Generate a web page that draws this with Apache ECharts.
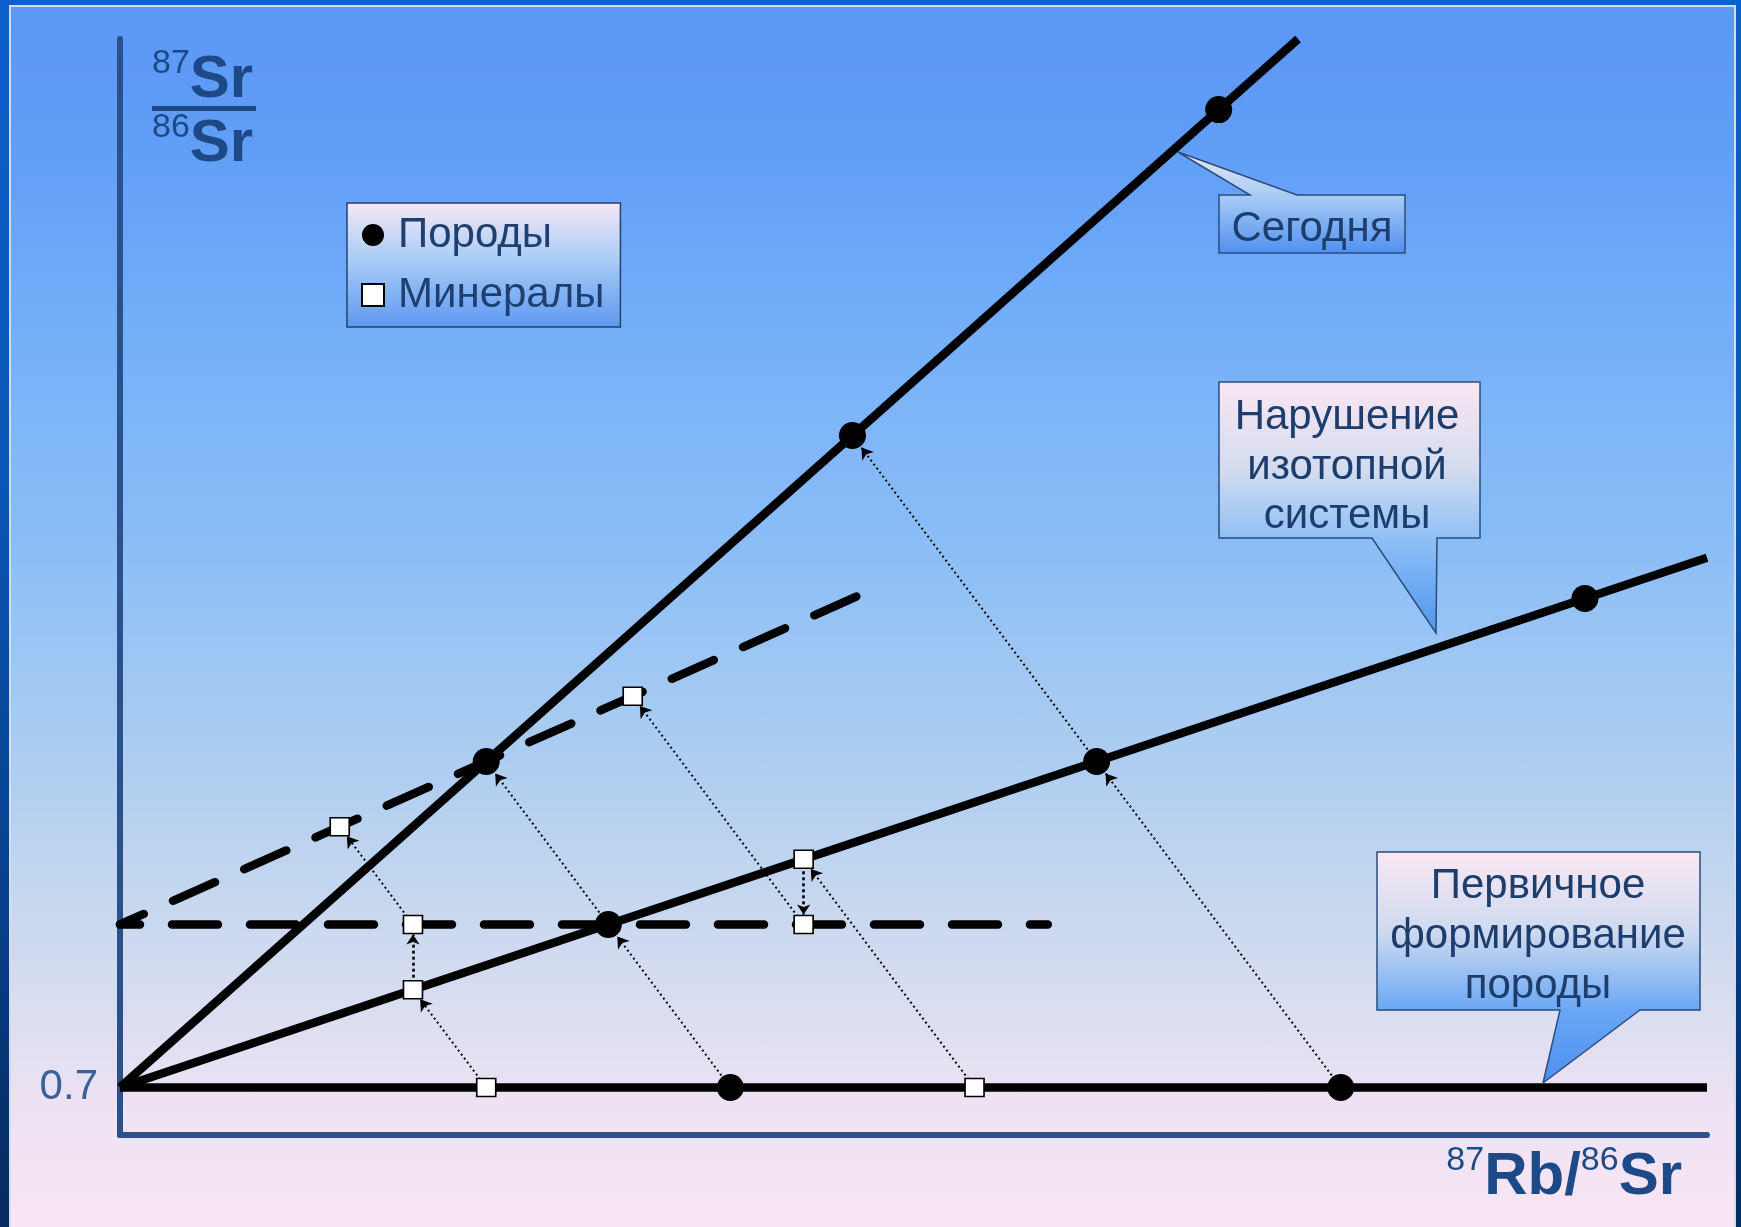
<!DOCTYPE html>
<html><head><meta charset="utf-8">
<script src="https://cdn.jsdelivr.net/npm/echarts@6/dist/echarts.min.js"></script>
<style>
html,body{margin:0;padding:0;width:1741px;height:1227px;overflow:hidden;}
#frame{position:absolute;left:0;top:0;width:1741px;height:1227px;background:linear-gradient(to bottom,#0c60cc 0%,#0a55b4 40%,#083f86 75%,#062b5c 100%);}
#panel{position:absolute;left:9px;top:5px;width:1727px;height:1222px;box-sizing:border-box;border:2px solid #d2dcec;border-bottom:none;
background:linear-gradient(to bottom,#5b97f5 0%,#619ef7 12%,#6eaaf8 22%,#7db5f8 33%,#8cbef6 45%,#a0c8f3 55%,#b2cff0 64%,#c8d8ef 74%,#dcdef1 83%,#ede2f3 90%,#f9e5f5 100%);}
#chart{position:absolute;left:0;top:0;width:1741px;height:1227px;}
</style>
</head>
<body>
<div id="frame"></div>
<div id="panel"></div>
<div id="chart"></div>
<script>
// ---- data (x = 87Rb/86Sr, arbitrary units; y = 87Sr/86Sr) ----
const xMin = 0, xMax = 13;
const yMin = 0.6965, yMax = 0.7772;
const yTickValues = [0.7];

const initialIsochron = [[0, 0.7], [13, 0.7]];          // Первичное формирование
const disturbanceIsochron = [[0, 0.7], [13, 0.739]];   // Нарушение изотопной системы
const todayIsochron = [[0, 0.7], [9.65, 0.7772]];      // Сегодня
const resetLevel = [[0, 0.712], [7.6, 0.712]];         // dashed horizontal
const mineralIsochron = [[0, 0.712], [6.07, 0.7363]];  // dashed slanted

const rockPoints = [[5, 0.7], [10, 0.7], [4, 0.712], [8, 0.724], [12, 0.736], [3, 0.724], [6, 0.748], [9, 0.772]];
const mineralPoints = [[3, 0.7], [7, 0.7], [2.4, 0.7072], [5.6, 0.7168], [2.4, 0.712], [5.6, 0.712], [1.8, 0.7192], [4.2, 0.7288]];

const rockPaths = [
  [[5, 0.7], [4, 0.712]], [[4, 0.712], [3, 0.724]],
  [[10, 0.7], [8, 0.724]], [[8, 0.724], [6, 0.748]]
];
const mineralPaths = [
  [[3, 0.7], [2.4, 0.7072]], [[7, 0.7], [5.6, 0.7168]],
  [[2.4, 0.712], [1.8, 0.7192]], [[5.6, 0.712], [4.2, 0.7288]]
];
const resetPaths = [
  [[2.4, 0.7072], [2.4, 0.712]], [[5.6, 0.7168], [5.6, 0.712]]
];

// ---- chart ----
const FONT = '"Liberation Sans", Arial, sans-serif';
const chart = echarts.init(document.getElementById('chart'), null, {renderer: 'canvas'});

function grad(stops) {
  return new echarts.graphic.LinearGradient(0, 0, 0, 1, stops.map(s => ({offset: s[0], color: s[1]})));
}
const titleColor = '#1d4a86';
const calloutText = '#1d3d6d';
const richTitle = {
  b: {fontSize: 60, fontWeight: 'bold', fontFamily: FONT, fill: titleColor, lineHeight: 66},
  s: {fontSize: 34, fontFamily: FONT, fill: titleColor, verticalAlign: 'top', lineHeight: 34}
};

const solid = {color: '#000', width: 8.5, opacity: 1};
const dashed = {color: '#000', width: 8.5, type: [46, 32], cap: 'round', opacity: 1};
const arrowLine = {color: '#000', width: 2, type: [2, 3], opacity: 1};

const option = {
  animation: false,
  grid: {left: 120, right: 34, top: 39, bottom: 92, containLabel: false},
  xAxis: {
    type: 'value', min: xMin, max: xMax,
    axisLine: {show: true, onZero: false, lineStyle: {color: '#2a5189', width: 6}},
    axisTick: {show: false}, axisLabel: {show: false}, splitLine: {show: false}
  },
  yAxis: {
    type: 'value', min: yMin, max: yMax,
    axisLine: {show: true, onZero: false, lineStyle: {color: '#2a5189', width: 6}},
    axisTick: {show: false}, splitLine: {show: false},
    axisLabel: {customValues: yTickValues, formatter: v => v.toFixed(1), fontSize: 42, fontFamily: FONT, color: '#3a6299', margin: 22}
  },
  legend: {
    data: ['Породы', 'Минералы'], orient: 'vertical', left: 347, top: 203,
    padding: [7, 16, 7, 14], itemGap: 10, itemWidth: 22, itemHeight: 22,
    selectedMode: false,
    backgroundColor: grad([[0, '#f6e7f5'], [0.45, '#a9cdf6'], [1, '#5d98f1']]),
    borderColor: '#27416b', borderWidth: 1.5,
    textStyle: {fontSize: 42, fontFamily: FONT, color: '#1e3f70', lineHeight: 50, padding: [0, 0, 0, 9]}
  },
  series: [
    {type: 'line', name: 'initial', data: initialIsochron, symbol: 'none', lineStyle: solid, silent: true, z: 2},
    {type: 'line', name: 'disturbance', data: disturbanceIsochron, symbol: 'none', lineStyle: solid, silent: true, z: 2},
    {type: 'line', name: 'today', data: todayIsochron, symbol: 'none', lineStyle: solid, silent: true, z: 2},
    {type: 'line', name: 'reset', data: resetLevel, symbol: 'none', silent: true, z: 2,
     lineStyle: Object.assign({dashOffset: 26}, dashed)},
    {type: 'line', name: 'mineralIso', data: mineralIsochron, symbol: 'none', silent: true, z: 2,
     lineStyle: Object.assign({dashOffset: 20}, dashed)},
    {id: 'rockArrows', type: 'lines', coordinateSystem: 'cartesian2d', silent: true, z: 3,
     symbol: ['none', 'arrow'], symbolSize: [1, 11], lineStyle: arrowLine,
     data: rockPaths.map(p => ({coords: p}))},
    {id: 'mineralArrows', type: 'lines', coordinateSystem: 'cartesian2d', silent: true, z: 3,
     symbol: ['none', 'arrow'], symbolSize: [1, 11], lineStyle: arrowLine,
     data: mineralPaths.map(p => ({coords: p}))},
    {id: 'resetArrows', type: 'lines', coordinateSystem: 'cartesian2d', silent: true, z: 3,
     symbol: ['none', 'arrow'], symbolSize: [1, 10], lineStyle: {color: '#000', width: 2.6, type: [3, 3], opacity: 1},
     data: resetPaths.map(p => ({coords: p}))},
    {type: 'scatter', name: 'Породы', data: rockPoints, symbol: 'circle', symbolSize: 27,
     itemStyle: {color: '#000', opacity: 1}, silent: true, z: 5},
    {type: 'scatter', name: 'Минералы', data: mineralPoints, symbol: 'rect', symbolSize: [19, 18],
     itemStyle: {color: '#fff', borderColor: '#000', borderWidth: 1.6, opacity: 1}, silent: true, z: 6}
  ],
  graphic: [
    // y-axis title (fraction)
    {type: 'text', x: 152, y: 80, z: 20, style: {text: '{s|87}{b|Sr}', rich: richTitle, fill: titleColor, verticalAlign: 'middle'}},
    {type: 'rect', z: 20, shape: {x: 152, y: 106, width: 104, height: 5}, style: {fill: titleColor}},
    {type: 'text', x: 152, y: 144, z: 20, style: {text: '{s|86}{b|Sr}', rich: richTitle, fill: titleColor, verticalAlign: 'middle'}},
    // x-axis title
    {type: 'text', x: 1682, y: 1177, z: 20, style: {text: '{s|87}{b|Rb/}{s|86}{b|Sr}', rich: richTitle, fill: titleColor, align: 'right', verticalAlign: 'middle'}},
    // callout: Сегодня
    {type: 'polygon', z: 20, shape: {points: [[1219, 195], [1250, 195], [1178, 152], [1297, 195], [1405, 195], [1405, 253], [1219, 253]]},
     style: {fill: grad([[0, '#e6e9f2'], [0.42, '#aacdf6'], [1, '#4f90ef']]), stroke: '#2d4c7c', lineWidth: 1.5}},
    {type: 'text', z: 21, x: 1312, y: 229, style: {text: 'Сегодня', fontSize: 42, fontFamily: FONT, fill: calloutText, align: 'center', verticalAlign: 'middle'}},
    // callout: Нарушение изотопной системы
    {type: 'polygon', z: 20, shape: {points: [[1219, 382], [1480, 382], [1480, 538], [1437, 538], [1436, 633], [1372, 538], [1219, 538]]},
     style: {fill: grad([[0, '#fbe6f2'], [0.35, '#d3dcef'], [0.62, '#8fc0f5'], [1, '#4f95f0']]), stroke: '#2d4c7c', lineWidth: 1.5}},
    {type: 'text', z: 21, x: 1347, y: 467, style: {text: 'Нарушение\nизотопной\nсистемы', fontSize: 42, lineHeight: 49.5, fontFamily: FONT, fill: calloutText, align: 'center', verticalAlign: 'middle'}},
    // callout: Первичное формирование породы
    {type: 'polygon', z: 20, shape: {points: [[1377, 852], [1700, 852], [1700, 1010], [1640, 1010], [1543, 1083], [1560, 1010], [1377, 1010]]},
     style: {fill: grad([[0, '#fbe8f3'], [0.35, '#cdd9f0'], [0.68, '#6aa8f5'], [1, '#4b8ff0']]), stroke: '#2d4c7c', lineWidth: 1.5}},
    {type: 'text', z: 21, x: 1538, y: 936, style: {text: 'Первичное\nформирование\nпороды', fontSize: 42, lineHeight: 50, fontFamily: FONT, fill: calloutText, align: 'center', verticalAlign: 'middle'}}
  ]
};
chart.setOption(option);

// shorten arrow ends so the arrowheads stop at the marker edge
function shorten(path, gap) {
  const p1 = chart.convertToPixel({gridIndex: 0}, path[0]);
  const p2 = chart.convertToPixel({gridIndex: 0}, path[1]);
  const dx = p2[0] - p1[0], dy = p2[1] - p1[1];
  const L = Math.hypot(dx, dy) || 1;
  const q = [p2[0] - dx / L * gap, p2[1] - dy / L * gap];
  return [path[0], chart.convertFromPixel({gridIndex: 0}, q)];
}
chart.setOption({series: [
  {id: 'rockArrows', data: rockPaths.map(p => ({coords: shorten(p, 15)}))},
  {id: 'mineralArrows', data: mineralPaths.map(p => ({coords: shorten(p, 12)}))},
  {id: 'resetArrows', data: resetPaths.map(p => ({coords: shorten(p, 10)}))}
]});
</script>
</body></html>
